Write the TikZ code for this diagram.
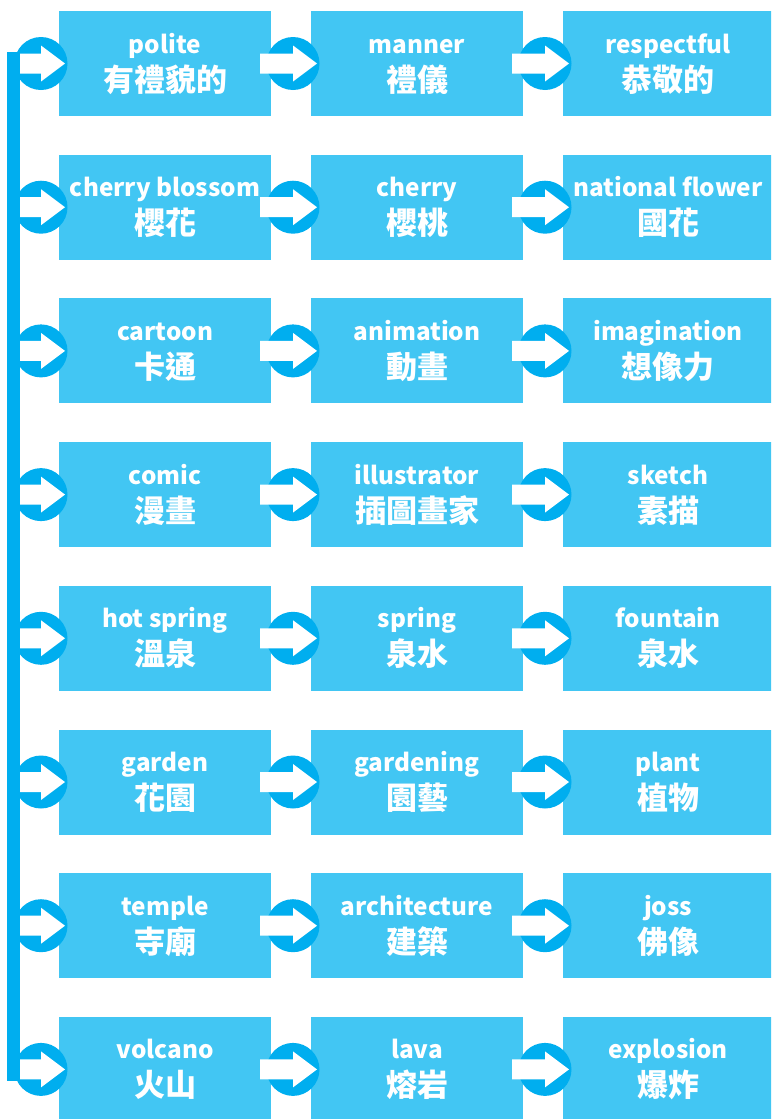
\documentclass[tikz,border=0pt]{standalone}
\usepackage{fontspec}
\newfontfamily\zhf{Noto Sans CJK TC}
\usetikzlibrary{calc}
\definecolor{boxc}{HTML}{42C6F3}
\definecolor{circc}{HTML}{00AEEF}
\tikzset{
  box/.style={fill=boxc, draw=none, minimum width=212pt, minimum height=105pt, inner sep=0pt, outer sep=0pt},
  circ/.style={circle, fill=circc, draw=none, minimum size=53pt, inner sep=0pt},
  entext/.style={text=white, anchor=base, inner sep=0pt, font=\zhf\bfseries\fontsize{24.3}{29}\selectfont},
  zhtext/.style={text=white, anchor=base, inner sep=0pt, font=\zhf\bfseries\fontsize{31}{36}\selectfont},
  warrow/.style={fill=white, draw=none}
}
\begin{document}
\begin{tikzpicture}[x=1pt,y=-1pt]
\useasboundingbox (0,0) rectangle (771,1119);
\clip (0,0) rectangle (771,1119);
\foreach \r/\a/\b/\c/\d/\e/\f in {
  1/polite/有禮貌的/manner/禮儀/respectful/恭敬的,
  2/cherry blossom/櫻花/cherry/櫻桃/national flower/國花,
  3/cartoon/卡通/animation/動畫/imagination/想像力,
  4/comic/漫畫/illustrator/插圖畫家/sketch/素描,
  5/hot spring/溫泉/spring/泉水/fountain/泉水,
  6/garden/花園/gardening/園藝/plant/植物,
  7/temple/寺廟/architecture/建築/joss/佛像,
  8/volcano/火山/lava/熔岩/explosion/爆炸}{
  \pgfmathsetmacro\yc{63.5+143.7*(\r-1)}
  \node[box] (b\r-1) at (165,\yc) {};
  \node[box] (b\r-2) at (417,\yc) {};
  \node[box] (b\r-3) at (669,\yc) {};
  \node[circ] (c\r-0) at (41,\yc) {};
  \node[circ] (c\r-1) at (293,\yc) {};
  \node[circ] (c\r-2) at (545,\yc) {};
  \foreach \k in {0,1,2}{
    \fill[warrow] (c\r-\k.center) ++(-33,-10) -- ++(33,0) -- ++(0,-8) -- ++(24,18) -- ++(-24,18) -- ++(0,-8) -- ++(-33,0) -- cycle;
  }
  \node[entext] (e\r-1) at ($(b\r-1.north)+(0,42)$) {\a};
  \node[zhtext] (z\r-1) at ($(b\r-1.north)+(0,80)$) {\b};
  \node[entext] (e\r-2) at ($(b\r-2.north)+(0,42)$) {\c};
  \node[zhtext] (z\r-2) at ($(b\r-2.north)+(0,80)$) {\d};
  \node[entext] (e\r-3) at ($(b\r-3.north)+(-1,42)$) {\e};
  \node[zhtext] (z\r-3) at ($(b\r-3.north)+(-1,80)$) {\f};
}
\coordinate (bartop) at (7,52);
\coordinate (barbot) at (20,1081);
\fill[circc] (bartop) rectangle (barbot);
\end{tikzpicture}
\end{document}
